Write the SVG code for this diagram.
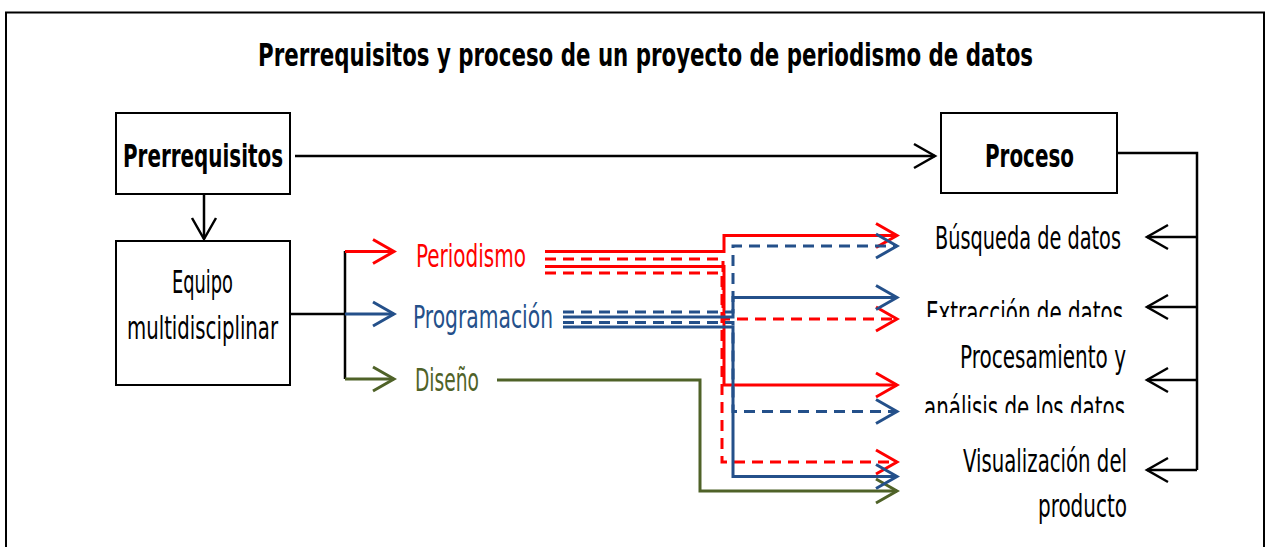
<svg xmlns="http://www.w3.org/2000/svg" width="1271" height="547" viewBox="0 0 1271 547">
<style>
.t{font-family:"DejaVu Sans Condensed","Liberation Sans Narrow","Roboto Condensed","DejaVu Sans",sans-serif;font-stretch:condensed;font-size:32px;fill:#000}
.b{font-weight:bold}
.box{fill:#fff;stroke:#000;stroke-width:2}
.k{fill:none;stroke:#000;stroke-width:2.5}
.r{fill:none;stroke:#ff0000;stroke-width:3}
.bl{fill:none;stroke:#24508a;stroke-width:3}
.g{fill:none;stroke:#4f6228;stroke-width:3}
.d{stroke-dasharray:11 7}
</style>
<defs>
<marker id="aK" viewBox="0 0 26 28" refX="23" refY="14" markerWidth="26" markerHeight="28" markerUnits="userSpaceOnUse" orient="auto"><path d="M2,2 L23,14 L2,26" fill="none" stroke="#000" stroke-width="2.5"/></marker>
<marker id="aR" viewBox="0 0 26 28" refX="23" refY="14" markerWidth="26" markerHeight="28" markerUnits="userSpaceOnUse" orient="auto"><path d="M2,2 L23,14 L2,26" fill="none" stroke="#ff0000" stroke-width="3"/></marker>
<marker id="aB" viewBox="0 0 26 28" refX="23" refY="14" markerWidth="26" markerHeight="28" markerUnits="userSpaceOnUse" orient="auto"><path d="M2,2 L23,14 L2,26" fill="none" stroke="#24508a" stroke-width="3"/></marker>
<marker id="aG" viewBox="0 0 26 28" refX="23" refY="14" markerWidth="26" markerHeight="28" markerUnits="userSpaceOnUse" orient="auto"><path d="M2,2 L23,14 L2,26" fill="none" stroke="#4f6228" stroke-width="3"/></marker>
<clipPath id="c1"><rect x="900" y="280" width="250" height="37"/></clipPath>
<clipPath id="c2"><rect x="900" y="380" width="250" height="33"/></clipPath>
</defs>
<rect width="1271" height="547" fill="#fff"/>
<rect x="6" y="12.5" width="1258" height="560" fill="none" stroke="#000" stroke-width="2"/>
<text id="title" class="t b" x="258" y="66" font-size="38" textLength="775" lengthAdjust="spacingAndGlyphs">Prerrequisitos y proceso de un proyecto de periodismo de datos</text>

<g id="connectors">
<path class="k" d="M295,156 H935" marker-end="url(#aK)"/>
<path class="k" d="M204,194 V239" marker-end="url(#aK)"/>
<path class="k" d="M290,314 H345 M345,251 V379"/>
<path class="r" d="M345,251.5 H394" marker-end="url(#aR)"/>
<path class="bl" d="M345,314 H394" marker-end="url(#aB)"/>
<path class="g" d="M345,379 H394" marker-end="url(#aG)"/>
<path class="k" d="M1116,153 H1197 V470"/>
<path class="k" d="M1197,237 H1147" marker-end="url(#aK)"/>
<path class="k" d="M1197,307 H1147" marker-end="url(#aK)"/>
<path class="k" d="M1197,380 H1147" marker-end="url(#aK)"/>
<path class="k" d="M1197,470 H1147" marker-end="url(#aK)"/>
<path class="g" d="M497,380 H700 V491 H897" marker-end="url(#aG)"/>
<path class="r" d="M545,251.5 H724 V235.5 H897" marker-end="url(#aR)"/>
<path class="r d" d="M545,259 H723 V319 H897" marker-end="url(#aR)"/>
<path class="r" d="M545,266.5 H724 V385 H897" marker-end="url(#aR)"/>
<path class="r d" d="M545,273 H722 V462 H897" marker-end="url(#aR)"/>
<path class="bl d" d="M563,312 H733 V246 H897" marker-end="url(#aB)"/>
<path class="bl" d="M563,317 H733 V297.5 H897" marker-end="url(#aB)"/>
<path class="bl d" d="M563,322.5 H733 V411.5 H897" marker-end="url(#aB)"/>
<path class="bl" d="M563,327 H733 V476.5 H897" marker-end="url(#aB)"/>
</g>

<g id="prerrequisitos">
<rect class="box" x="116" y="113" width="174" height="81"/>
<text class="t b" x="123" y="167" font-size="34" textLength="160" lengthAdjust="spacingAndGlyphs">Prerrequisitos</text>
</g>
<g id="proceso">
<rect class="box" x="941" y="113" width="176" height="80"/>
<text class="t b" x="985" y="167" font-size="34" textLength="89" lengthAdjust="spacingAndGlyphs">Proceso</text>
</g>
<g id="equipo">
<rect class="box" x="116" y="241" width="174" height="144"/>
<text class="t" x="172" y="293" font-size="34" textLength="61" lengthAdjust="spacingAndGlyphs">Equipo</text>
<text class="t" x="127" y="339" textLength="151" lengthAdjust="spacingAndGlyphs">multidisciplinar</text>
</g>
<g id="periodismo"><text class="t" x="416" y="267" font-size="33" style="fill:#ff0000" textLength="110" lengthAdjust="spacingAndGlyphs">Periodismo</text></g>
<g id="programacion"><text class="t" x="413" y="328" font-size="33" style="fill:#24508a" textLength="140" lengthAdjust="spacingAndGlyphs">Programación</text></g>
<g id="diseno"><text class="t" x="415" y="391" font-size="33" style="fill:#4f6228" textLength="64" lengthAdjust="spacingAndGlyphs">Diseño</text></g>
<g id="busqueda"><text class="t" x="935" y="249" textLength="186" lengthAdjust="spacingAndGlyphs">Búsqueda de datos</text></g>
<g id="extraccion"><text class="t" x="926" y="324" clip-path="url(#c1)" textLength="197" lengthAdjust="spacingAndGlyphs">Extracción de datos</text></g>
<g id="procesamiento">
<text class="t" x="960" y="368" textLength="166" lengthAdjust="spacingAndGlyphs">Procesamiento y</text>
<text class="t" x="924" y="419" clip-path="url(#c2)" textLength="201" lengthAdjust="spacingAndGlyphs">análisis de los datos</text>
</g>
<g id="visualizacion">
<text class="t" x="963" y="472" textLength="164" lengthAdjust="spacingAndGlyphs">Visualización del</text>
<text class="t" x="1038" y="517" textLength="89" lengthAdjust="spacingAndGlyphs">producto</text>
</g>
</svg>
